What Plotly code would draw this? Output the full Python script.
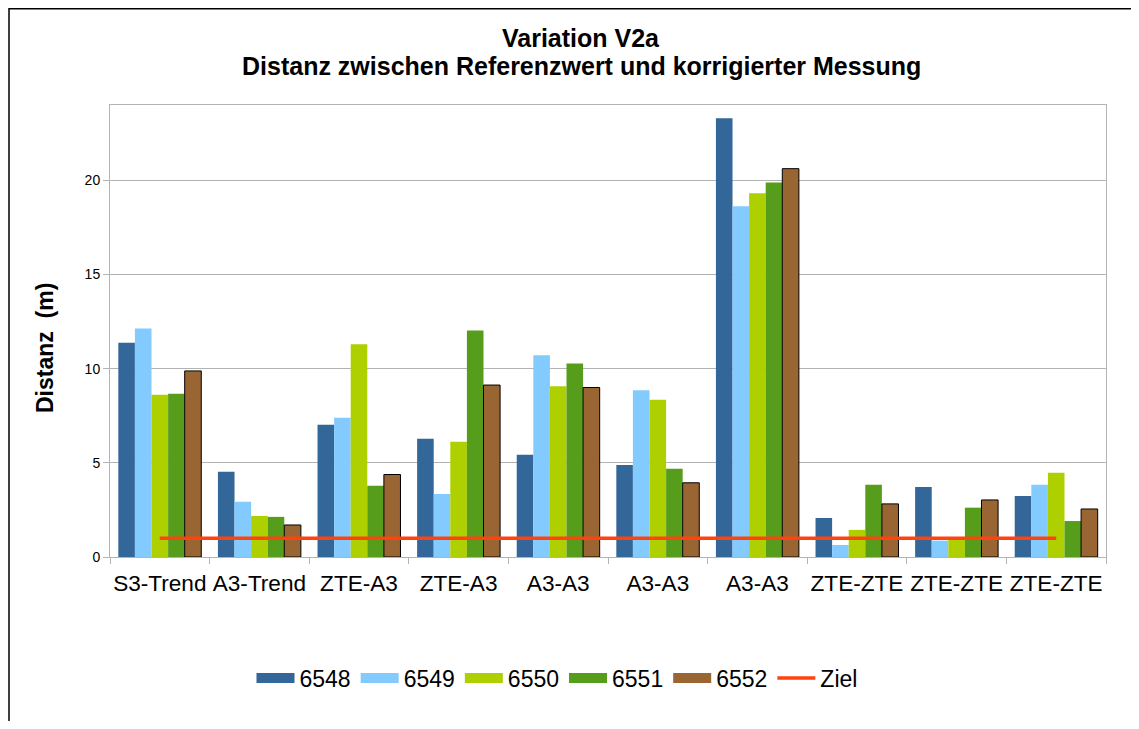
import plotly.graph_objects as go

categories = ["S3-Trend", "A3-Trend", "ZTE-A3", "ZTE-A3", "A3-A3",
              "A3-A3", "A3-A3", "ZTE-ZTE", "ZTE-ZTE", "ZTE-ZTE"]
series_names = ["6548", "6549", "6550", "6551", "6552"]
v6548 = [11.38, 4.52, 7.02, 6.28, 5.43, 4.89, 23.29, 2.07, 3.72, 3.24]
v6549 = [12.13, 2.93, 7.39, 3.35, 10.71, 8.86, 18.62, 0.64, 0.87, 3.83]
v6550 = [8.62, 2.18, 11.29, 6.12, 9.06, 8.35, 19.31, 1.44, 0.95, 4.47]
v6551 = [8.67, 2.13, 3.78, 12.02, 10.28, 4.68, 19.89, 3.83, 2.62, 1.91]
v6552 = [9.88, 1.70, 4.38, 9.13, 9.00, 3.94, 20.62, 2.82, 3.03, 2.55]
ziel = [1, 1, 1, 1, 1, 1, 1, 1, 1, 1]
y_ticks = [0, 5, 10, 15, 20]

colors = ["#336699", "#83caff", "#aecf00", "#579d1c", "#996633"]
outline = [None, None, None, None, "#000000"]
values = [v6548, v6549, v6550, v6551, v6552]

FONT = "Liberation Sans, Arial, sans-serif"
# page has an 8px body margin; figure sized so that it fits the window
OFF = 8
W, H = 1131, 713
PL, PT, PR, PB = 110, 105, 1106, 557          # plot box in page pixels
ML, MT = PL - OFF, PT - OFF
MR, MB = W - (PR - OFF), H - (PB - OFF)
PW, PH = PR - PL, PB - PT


def px_x(p):
    return (p - PL) / PW


def px_y(p):
    return (PB - p) / PH


xpos = list(range(len(categories)))

fig = go.Figure()
for name, vals, col, ol in zip(series_names, values, colors, outline):
    fig.add_trace(go.Bar(
        x=xpos, y=vals, name=name, legendgroup=name, showlegend=False,
        marker=dict(color=col,
                    line=dict(color=ol if ol else col, width=1 if ol else 0)),
    ))
# legend swatches (wide rectangles like the original legend)
for name, col in zip(series_names, colors):
    fig.add_trace(go.Scatter(
        x=[None], y=[None], name=name, legendgroup=name, mode="lines",
        line=dict(color=col, width=13), hoverinfo="skip",
    ))
fig.add_trace(go.Scatter(
    x=xpos, y=ziel, name="Ziel", mode="lines",
    line=dict(color="#ff420e", width=3.5),
))

fig.update_layout(
    width=W, height=H,
    margin=dict(l=ML, r=MR, t=MT, b=MB, pad=0),
    paper_bgcolor="white", plot_bgcolor="white",
    barmode="group", bargap=0.167, bargroupgap=0,
    font=dict(family=FONT, color="#000000"),
    showlegend=True,
    legend=dict(orientation="h", x=px_x(557), xanchor="center",
                y=px_y(678), yanchor="middle", itemwidth=38,
                font=dict(size=23, family=FONT, color="#000000"),
                tracegroupgap=0),
    xaxis=dict(
        range=[-0.5, len(categories) - 0.5],
        tickmode="array", tickvals=xpos, ticktext=categories,
        ticks="outside", ticklen=6, tickcolor="rgba(0,0,0,0)",
        tickfont=dict(size=22.6, family=FONT, color="#000000"),
        showline=True, linecolor="#b3b3b3", linewidth=1, mirror=True,
        showgrid=False, zeroline=False,
        minor=dict(tickmode="array",
                   tickvals=[i - 0.5 for i in range(len(categories) + 1)],
                   ticks="outside", ticklen=6, tickcolor="#b3b3b3",
                   tickwidth=1, showgrid=False),
    ),
    yaxis=dict(
        range=[0, 24],
        tickmode="array", tickvals=y_ticks,
        ticks="outside", ticklen=6, tickcolor="#b3b3b3", tickwidth=1,
        tickfont=dict(size=14, family=FONT, color="#000000"),
        showline=True, linecolor="#b3b3b3", linewidth=1, mirror=True,
        showgrid=True, gridcolor="#b3b3b3", gridwidth=1,
        zeroline=False,
    ),
    annotations=[
        dict(text="<b>Variation V2a</b>", xref="paper", yref="paper",
             x=px_x(581), y=px_y(38), xanchor="center", yanchor="middle",
             showarrow=False, font=dict(size=25, family=FONT, color="#000000")),
        dict(text="<b>Distanz zwischen Referenzwert und korrigierter Messung</b>",
             xref="paper", yref="paper",
             x=px_x(581), y=px_y(66), xanchor="center", yanchor="middle",
             showarrow=False, font=dict(size=25, family=FONT, color="#000000")),
        dict(text="<b>Distanz  (m)</b>", xref="paper", yref="paper",
             x=px_x(45), y=px_y(348), xanchor="center", yanchor="middle",
             textangle=-90, showarrow=False,
             font=dict(size=23, family=FONT, color="#000000")),
    ],
    shapes=[
        dict(type="rect", xref="paper", yref="paper",
             x0=px_x(9), x1=px_x(1160), y0=px_y(8.7), y1=px_y(760),
             line=dict(color="#000000", width=1.5), fillcolor="rgba(0,0,0,0)",
             layer="below"),
    ],
)

fig.write_html("out.html")
